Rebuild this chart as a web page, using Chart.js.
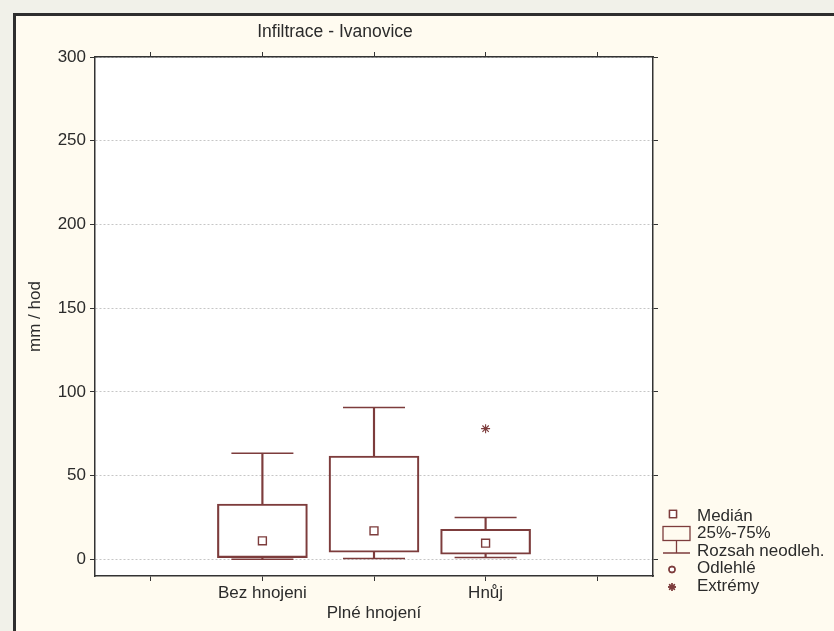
<!DOCTYPE html>
<html>
<head>
<meta charset="utf-8">
<script src="https://cdn.jsdelivr.net/npm/chart.js@4"></script>
<style>
  html, body { margin: 0; padding: 0; width: 834px; height: 631px; overflow: hidden; background: #f1f1e9; }
  #sheet { position: absolute; left: 13px; top: 13px; width: 900px; height: 700px;
           border-left: 3px solid #2e2e2e; border-top: 3px solid #2e2e2e; background: #fffbf0; }
  #c { position: absolute; left: 0; top: 0; }
</style>
</head>
<body>
<div id="sheet"></div>
<canvas id="c" width="834" height="631"></canvas>
<script>
// Infiltration rate box plot, Ivanovice site
const chartTitle = 'Infiltrace - Ivanovice';
const yAxisTitle = 'mm / hod';

// five slots on the category axis; outer two are empty, middle label sits on a second row
const categories = ['', 'Bez hnojeni', ['', 'Plné hnojení'], 'Hnůj', ''];

const medians     = [null, 11.0, 17.0, 9.6, null];
const quartile1   = [null, 1.0, 4.2, 3.0, null];
const quartile3   = [null, 33.0, 61.7, 17.9, null];
const whiskerLow  = [null, 0.0, 0.5, 1.0, null];
const whiskerHigh = [null, 63.3, 90.6, 25.0, null];
const extremes    = [null, null, null, 78.0, null];

const yTicks = [0, 50, 100, 150, 200, 250, 300];

const legendLabels = ['Medián', '25%-75%', 'Rozsah neodleh.', 'Odlehlé', 'Extrémy'];

const boxColor = '#7d3c3c';
const ink = '#333333';
const textColor = '#2b2b2b';
const fontFamily = '"Liberation Sans", Arial, sans-serif';

const pair = (a, b) => a.map((v, i) => (v == null ? null : [v, b[i]]));

// white plot area
const plotBackground = {
  id: 'plotBackground',
  beforeDraw(chart) {
    const { ctx, chartArea: a } = chart;
    ctx.save();
    ctx.fillStyle = '#ffffff';
    ctx.fillRect(a.left, a.top, a.right - a.left, a.bottom - a.top);
    ctx.restore();
  }
};

// key for the box plot symbols, placed to the right of the plot
const boxLegend = {
  id: 'boxLegend',
  afterDraw(chart) {
    const { ctx, chartArea: a } = chart;
    const mx = a.right + 23;
    const tx = a.right + 44;
    const rows = [a.bottom - 60, a.bottom - 42.5, a.bottom - 25, a.bottom - 7.5, a.bottom + 10];
    ctx.save();
    ctx.strokeStyle = boxColor;
    ctx.fillStyle = '#ffffff';
    ctx.lineWidth = 1.3;
    Chart.helpers.drawPoint(ctx, { pointStyle: 'rect', radius: 5, borderWidth: 1.3 }, mx - 3, rows[0] - 2);
    ctx.stroke();
    ctx.strokeRect(mx - 13, rows[1] - 7, 27, 14);
    ctx.beginPath();
    ctx.moveTo(mx + 0.5, rows[1] + 7);
    ctx.lineTo(mx + 0.5, rows[2] + 2);
    ctx.moveTo(mx - 13, rows[2] + 2);
    ctx.lineTo(mx + 14, rows[2] + 2);
    ctx.stroke();
    Chart.helpers.drawPoint(ctx, { pointStyle: 'circle', radius: 3, borderWidth: 1.3 }, mx - 4, rows[3] + 1);
    ctx.stroke();
    Chart.helpers.drawPoint(ctx, { pointStyle: 'star', radius: 4, borderWidth: 1 }, mx - 4, rows[4] + 1);
    ctx.stroke();
    ctx.fillStyle = textColor;
    ctx.font = '17px ' + fontFamily;
    ctx.textBaseline = 'middle';
    ctx.textAlign = 'left';
    legendLabels.forEach((t, i) => ctx.fillText(t, tx, rows[i]));
    ctx.restore();
  }
};

const tickFont = { family: fontFamily, size: 17 };
const setYTicks = s => { s.ticks = yTicks.map(v => ({ value: v })); };

new Chart(document.getElementById('c'), {
  type: 'bar',
  data: {
    labels: categories,
    datasets: [
      { // interquartile boxes
        type: 'bar', data: pair(quartile1, quartile3), grouped: false, barThickness: 90,
        backgroundColor: 'rgba(0,0,0,0)', borderColor: boxColor, borderWidth: 1.5, borderSkipped: false
      },
      { // upper whisker stems
        type: 'bar', data: pair(quartile3, whiskerHigh), grouped: false, barThickness: 1.5,
        backgroundColor: boxColor, borderWidth: 0
      },
      { // lower whisker stems
        type: 'bar', data: pair(whiskerLow, quartile1), grouped: false, barThickness: 1.5,
        backgroundColor: boxColor, borderWidth: 0
      },
      { // whisker caps
        type: 'line', data: whiskerHigh, showLine: false, pointStyle: 'line', pointRadius: 31,
        borderColor: boxColor, pointBorderWidth: 1.5
      },
      {
        type: 'line', data: whiskerLow, showLine: false, pointStyle: 'line', pointRadius: 31,
        borderColor: boxColor, pointBorderWidth: 1.5
      },
      { // medians
        type: 'line', data: medians, showLine: false, pointStyle: 'rect', pointRadius: 5.6,
        pointBackgroundColor: '#ffffff', pointBorderColor: boxColor, pointBorderWidth: 1.4
      },
      { // extreme values
        type: 'line', data: extremes, showLine: false, pointStyle: 'star', pointRadius: 4.5,
        pointBorderColor: boxColor, pointBorderWidth: 1.1
      }
    ]
  },
  options: {
    responsive: false,
    devicePixelRatio: 1,
    animation: false,
    events: [],
    layout: { padding: { left: 0, right: 164, top: 10, bottom: 5 } },
    plugins: {
      legend: { display: false },
      tooltip: { enabled: false },
      title: {
        display: true, text: chartTitle, color: textColor,
        font: { family: fontFamily, size: 17.5, weight: 'normal' },
        padding: { top: 11.5, bottom: 2 }
      }
    },
    scales: {
      x: {
        position: 'bottom', offset: true,
        grid: { offset: false, drawOnChartArea: false, drawTicks: true, tickLength: 5, tickColor: ink, tickWidth: 1 },
        border: { display: true, color: ink, width: 1.5 },
        ticks: { autoSkip: false, maxRotation: 0, minRotation: 0, padding: 2, color: textColor, font: tickFont },
        afterFit(s) { s.height = 50; }
      },
      x2: {
        type: 'category', labels: categories, position: 'top', offset: true,
        grid: { offset: false, drawOnChartArea: false, drawTicks: true, tickLength: 5, tickColor: ink, tickWidth: 1 },
        border: { display: true, color: ink, width: 1.5 },
        ticks: { display: false },
        afterFit(s) { s.height = 12.5; }
      },
      y: {
        position: 'left', min: -10, max: 300,
        afterBuildTicks: setYTicks,
        grid: { color: '#c6c6c6', lineWidth: 1, tickColor: ink, tickLength: 5, tickWidth: 1 },
        border: { display: true, color: ink, width: 1.5, dash: [2, 2] },
        ticks: { padding: 4, color: textColor, font: tickFont },
        title: { display: true, text: yAxisTitle, color: textColor, font: tickFont, padding: { top: 25, bottom: 0 } },
        afterFit(s) { s.width = 95; }
      },
      y2: {
        position: 'right', min: -10, max: 300,
        afterBuildTicks: setYTicks,
        grid: { drawOnChartArea: false, drawTicks: true, tickLength: 5, tickColor: ink, tickWidth: 1 },
        border: { display: true, color: ink, width: 1.5 },
        ticks: { display: false },
        afterFit(s) { s.width = 17; }
      }
    }
  },
  plugins: [plotBackground, boxLegend]
});
</script>
</body>
</html>
